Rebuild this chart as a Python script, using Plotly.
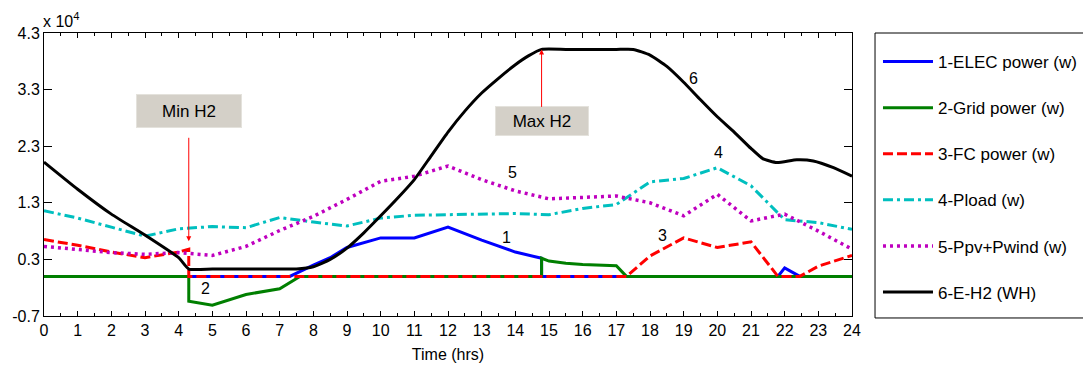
import plotly.graph_objects as go

# values in units of 10^4 (W or WH)
elec_x = [0, 7.3, 8, 8.5, 9, 10, 11, 12, 13, 14, 14.78, 14.78, 21.8, 22, 22.45, 24]
elec_y = [0, 0, 0.2, 0.33, 0.51, 0.68, 0.68, 0.87, 0.64, 0.43, 0.32, 0, 0, 0.15, 0, 0]

grid_x = [0, 4.3, 4.3, 5, 6, 7, 7.6, 14.78, 14.78, 15, 15.5, 16, 17, 17.3, 24]
grid_y = [0, 0, -0.44, -0.51, -0.32, -0.22, 0, 0, 0.32, 0.27, 0.23, 0.21, 0.19, 0, 0]

fc_x = [0, 1, 2, 3, 4, 4.3, 4.3, 17.3, 18, 19, 20, 21, 21.8, 22.45, 23, 24]
fc_y = [0.65, 0.55, 0.43, 0.33, 0.43, 0.48, 0, 0, 0.36, 0.68, 0.51, 0.61, 0, 0, 0.18, 0.37]

hours = list(range(25))
pload_y = [1.16, 1.03, 0.87, 0.71, 0.84, 0.88, 0.86, 1.04, 0.96, 0.89, 1.03, 1.08, 1.09,
           1.10, 1.11, 1.09, 1.20, 1.27, 1.67, 1.73, 1.92, 1.60, 1.00, 0.95, 0.83]
ppv_y = [0.53, 0.48, 0.42, 0.39, 0.42, 0.37, 0.53, 0.81, 1.06, 1.36, 1.68, 1.77, 1.95,
         1.71, 1.51, 1.37, 1.40, 1.42, 1.30, 1.07, 1.45, 0.98, 1.10, 0.80, 0.48]

eh2_x = [0, 1, 2, 3, 4, 4.3, 5, 6, 7, 7.5, 8, 8.5, 9, 9.5, 10, 10.5, 11, 11.5, 12, 12.5,
         13, 13.5, 14, 14.4, 14.78, 15.5, 16.25, 17, 17.5, 18, 18.5, 19, 19.5, 20, 20.5,
         21, 21.35, 21.77, 22.36, 22.85, 23.45, 24]
eh2_y = [2.02, 1.54, 1.10, 0.73, 0.33, 0.13, 0.13, 0.13, 0.13, 0.13, 0.17, 0.30, 0.50,
         0.77, 1.07, 1.38, 1.71, 2.13, 2.55, 2.92, 3.24, 3.50, 3.74, 3.90, 4.01, 4.01,
         4.01, 4.01, 4.01, 3.91, 3.71, 3.43, 3.12, 2.82, 2.55, 2.26, 2.08, 2.01, 2.06,
         2.04, 1.92, 1.77]

names = ["1-ELEC power (w)", "2-Grid power (w)", "3-FC power (w)",
         "4-Pload (w)", "5-Ppv+Pwind (w)", "6-E-H2 (WH)"]

xticks = list(range(25))
yticks = [-0.7, 0.3, 1.3, 2.3, 3.3, 4.3]

FONT = "Liberation Sans, Arial, sans-serif"

fig = go.Figure()
fig.add_trace(go.Scatter(x=elec_x, y=elec_y, mode="lines", name=names[0], legendgroup="1",
                         line=dict(color="#0000ff", width=3)))
fig.add_trace(go.Scatter(x=grid_x, y=grid_y, mode="lines", name=names[1], legendgroup="2",
                         line=dict(color="#007f00", width=3)))
fig.add_trace(go.Scatter(x=fc_x, y=fc_y, mode="lines", name=names[2], legendgroup="3",
                         line=dict(color="#ff0000", width=3, dash="10px,4px")))
fig.add_trace(go.Scatter(x=hours, y=pload_y, mode="lines", name=names[3], legendgroup="4",
                         line=dict(color="#00bfbf", width=3, dash="10px,4px,3px,4px")))
fig.add_trace(go.Scatter(x=hours, y=ppv_y, mode="lines", name=names[4], legendgroup="5",
                         line=dict(color="#bf00bf", width=3.5, dash="3px,4px")))
fig.add_trace(go.Scatter(x=eh2_x, y=eh2_y, mode="lines", name=names[5], legendgroup="6",
                         line=dict(color="#000000", width=3, shape="spline", smoothing=0.5)))

# curve number labels
labels = [("1", 13.75, 0.69), ("2", 4.81, -0.21), ("3", 18.38, 0.72),
          ("4", 20.02, 2.19), ("5", 13.93, 1.84), ("6", 19.28, 3.5)]
for t, lx, ly in labels:
    fig.add_annotation(x=lx, y=ly, text=t, showarrow=False,
                       font=dict(family=FONT, size=16, color="black"))

# Min / Max H2 callouts
fig.add_annotation(x=4.3, y=0.62, text="Min H2", showarrow=True, ax=0, ay=-130,
                   arrowcolor="#ff0000", arrowwidth=1, arrowhead=2, arrowsize=1,
                   startstandoff=10, bgcolor="#d4d0c8", bordercolor="#e4e2dc",
                   borderwidth=1, borderpad=2, width=100, height=28,
                   font=dict(family=FONT, size=17, color="black"))
fig.add_annotation(x=14.78, y=4.01, text="Max H2", showarrow=True, ax=0, ay=72,
                   arrowcolor="#ff0000", arrowwidth=1, arrowhead=2, arrowsize=1,
                   bgcolor="#d4d0c8", bordercolor="#e4e2dc",
                   borderwidth=1, borderpad=2, width=88, height=24,
                   font=dict(family=FONT, size=17, color="black"))

# exponent label
fig.add_annotation(x=0, y=1, xref="paper", yref="paper", xanchor="left", yanchor="bottom",
                   text="x 10<sup>4</sup>", showarrow=False, yshift=1, xshift=-3,
                   font=dict(family=FONT, size=16, color="black"))

# legend frame
fig.add_shape(type="rect", xref="paper", yref="paper", x0=1.0285, x1=1.32, y0=-0.007, y1=1.0,
              line=dict(color="black", width=1), fillcolor="rgba(0,0,0,0)")

fig.update_layout(
    width=1083, height=365,
    margin=dict(l=44, r=231, t=33, b=49),
    plot_bgcolor="white", paper_bgcolor="white",
    font=dict(family=FONT, size=16, color="black"),
    showlegend=True,
    legend=dict(xref="container", yref="container", x=0.8107, xanchor="left",
                y=0.8795, yanchor="top", maxheight=330,
                bgcolor="rgba(0,0,0,0)", borderwidth=0, tracegroupgap=21,
                font=dict(family=FONT, size=17, color="black"), itemwidth=50),
    xaxis=dict(range=[0, 24], tickvals=xticks, ticks="inside", ticklen=5, tickcolor="black",
               showline=True, linecolor="black", linewidth=1, mirror="ticks",
               showgrid=False, zeroline=False, automargin=False,
               minor=dict(dtick=0.5, ticks="inside", ticklen=3, tickcolor="black"),
               title=dict(text="Time (hrs)", font=dict(size=16), standoff=10),
               tickfont=dict(size=16)),
    yaxis=dict(range=[-0.7, 4.3], tickvals=yticks, ticktext=[f"{v:.1f}" for v in yticks],
               ticks="inside", ticklen=8, tickcolor="black", automargin=False,
               showline=True, linecolor="black", linewidth=1, mirror="ticks",
               showgrid=False, zeroline=False, tickfont=dict(size=16)),
)

fig.write_html("out.html", config={"displayModeBar": False},
               post_script="document.body.style.margin='0px';document.body.style.overflow='hidden';")
